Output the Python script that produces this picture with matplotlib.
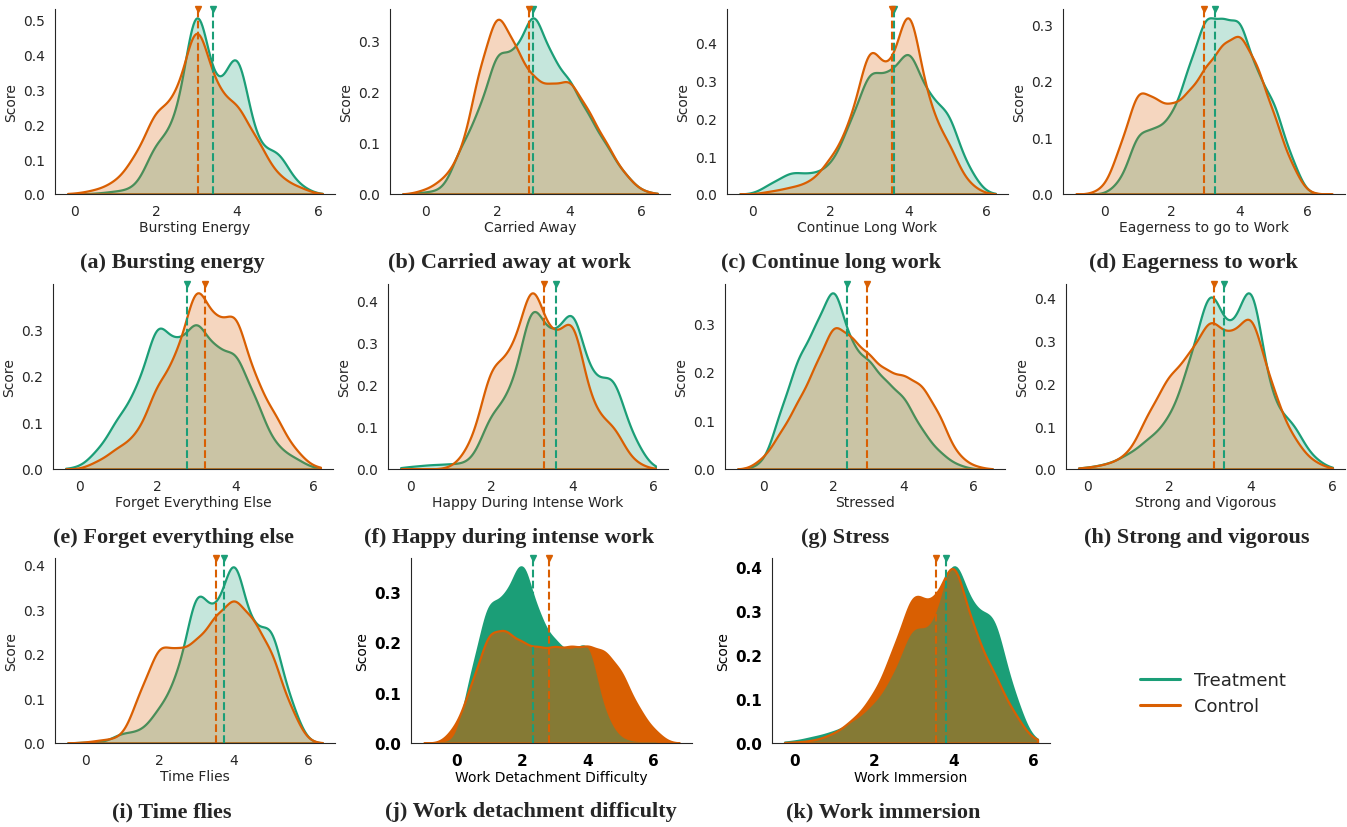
import numpy as np
import matplotlib
matplotlib.use("Agg")
import matplotlib.pyplot as plt
import seaborn as sns
from matplotlib.lines import Line2D

sns.set_style("white")
plt.rcParams['font.family'] = ['DejaVu Sans']

GREEN = '#1b9e77'
ORANGE = '#d95f02'
BW = 0.28  # kernel width in score units

# answer scores (half-point steps) and how many answers fell on each
scores = [0, 0.5, 1, 1.5, 2, 2.5, 3, 3.5, 4, 4.5, 5, 5.5, 6]

bursting_treat = [0, 1, 4, 8, 73, 97, 296, 129, 219, 62, 63, 13, 0]
bursting_ctrl = [1, 6, 18, 56, 126, 139, 271, 151, 134, 80, 27, 11, 0]
carried_treat = [2, 4, 48, 82, 146, 137, 189, 135, 114, 80, 50, 21, 3]
carried_ctrl = [4, 14, 38, 119, 180, 140, 109, 103, 111, 81, 50, 20, 3]
continue_treat = [0, 15, 30, 26, 36, 93, 167, 153, 198, 127, 112, 35, 0]
continue_ctrl = [0, 4, 9, 16, 46, 91, 206, 151, 267, 115, 69, 14, 0]
eager_treat = [0, 11, 56, 56, 67, 110, 158, 150, 155, 105, 82, 33, 0]
eager_ctrl = [5, 43, 94, 82, 76, 88, 110, 130, 141, 113, 70, 27, 1]
forget_treat = [2, 22, 58, 90, 171, 137, 170, 132, 133, 80, 27, 13, 1]
forget_ctrl = [0, 9, 24, 38, 94, 123, 212, 159, 177, 99, 61, 22, 2]
happy_treat = [3, 5, 6, 7, 66, 88, 203, 146, 195, 98, 113, 35, 0]
happy_ctrl = [0, 0, 1, 27, 124, 130, 227, 144, 184, 67, 52, 8, 0]
stress_treat = [6, 66, 124, 155, 209, 132, 119, 94, 80, 43, 19, 5, 0]
stress_ctrl = [11, 38, 69, 105, 149, 132, 115, 98, 94, 86, 57, 15, 3]
strong_treat = [2, 6, 17, 35, 57, 122, 222, 148, 236, 74, 56, 13, 0]
strong_ctrl = [2, 6, 17, 68, 113, 136, 185, 155, 196, 99, 39, 9, 0]
time_treat = [1, 1, 12, 13, 39, 76, 183, 140, 223, 124, 138, 49, 0]
time_ctrl = [1, 4, 6, 61, 115, 105, 116, 144, 168, 142, 107, 42, 1]
detach_treat = [0, 74, 144, 141, 190, 125, 100, 88, 106, 26, 3, 0, 0]
detach_ctrl = [16, 61, 112, 112, 99, 94, 95, 95, 96, 92, 73, 36, 13]
immersion_treat = [2, 7, 13, 24, 43, 76, 142, 127, 234, 153, 158, 59, 1]
immersion_ctrl = [1, 3, 11, 28, 56, 110, 185, 159, 229, 134, 85, 37, 3]

# group means (dashed lines)
treat_means = [3.4, 3.0, 3.62, 3.28, 2.77, 3.59, 2.39, 3.33, 3.74, 2.35, 3.82]
ctrl_means = [3.05, 2.88, 3.58, 2.96, 3.23, 3.3, 2.95, 3.1, 3.51, 2.82, 3.57]

xlabels = ["Bursting Energy", "Carried Away", "Continue Long Work",
           "Eagerness to go to Work", "Forget Everything Else",
           "Happy During Intense Work", "Stressed", "Strong and Vigorous",
           "Time Flies", "Work Detachment Difficulty", "Work Immersion"]
captions = ["(a) Bursting energy", "(b) Carried away at work",
            "(c) Continue long work", "(d) Eagerness to work",
            "(e) Forget everything else", "(f) Happy during intense work",
            "(g) Stress", "(h) Strong and vigorous", "(i) Time flies",
            "(j) Work detachment difficulty", "(k) Work immersion"]

treat_counts = [bursting_treat, carried_treat, continue_treat, eager_treat,
                forget_treat, happy_treat, stress_treat, strong_treat,
                time_treat, detach_treat, immersion_treat]
ctrl_counts = [bursting_ctrl, carried_ctrl, continue_ctrl, eager_ctrl,
               forget_ctrl, happy_ctrl, stress_ctrl, strong_ctrl,
               time_ctrl, detach_ctrl, immersion_ctrl]

W, H = 1347, 828
# axes boxes in pixels: left, top, right, bottom
boxes = [(55, 10, 335, 195), (390, 10, 670, 195), (727, 10, 1008, 195), (1063, 10, 1345, 195),
         (53, 285, 333, 470), (388, 285, 668, 470), (725, 285, 1005, 470), (1066, 285, 1345, 470),
         (55, 559, 335, 744), (411, 559, 692, 744), (772, 559, 1050, 744)]
xlims = [(-0.49, 6.42), (-0.97, 6.79), (-0.65, 6.54), (-1.21, 7.11),
         (-0.67, 6.5), (-0.55, 6.36), (-1.11, 6.9), (-0.52, 6.3),
         (-0.81, 6.72), (-1.37, 7.17), (-0.56, 6.43)]
caption_x = [172, 509, 831, 1193, 173, 509, 845, 1197, 172, 531, 883]
caption_y = [263, 263, 263, 263, 538, 538, 538, 538, 812, 812, 812]


def kde(ax, counts, color, alpha, lw, clip):
    x = np.array(scores, dtype=float)
    w = np.array(counts, dtype=float)
    keep = w > 0
    x, w = x[keep], w[keep]
    sd = np.sqrt(np.cov(x, aweights=w))
    sns.kdeplot(x=x, weights=w, bw_method=BW / sd, fill=True, color=color,
                alpha=alpha, linewidth=lw, clip=clip, ax=ax)


fig = plt.figure(figsize=(W / 100, H / 100), dpi=100)

for i in range(11):
    l, t, r, b = boxes[i]
    ax = fig.add_axes([l / W, 1 - b / H, (r - l) / W, (b - t) / H])
    lo, hi = xlims[i]
    pad = 0.045 * (hi - lo)
    clip = (lo + pad, hi - pad)
    bold = i >= 9
    if bold:
        # last two panels: solid fills
        kde(ax, ctrl_counts[i], ORANGE, 1.0, 0, clip)
        kde(ax, treat_counts[i], GREEN, 1.0, 1.6, clip)
        kde(ax, ctrl_counts[i], ORANGE, 0.56, 1.6, clip)
    else:
        kde(ax, treat_counts[i], GREEN, 0.25, 1.6, clip)
        kde(ax, ctrl_counts[i], ORANGE, 0.25, 1.6, clip)

    for m, c in [(treat_means[i], GREEN), (ctrl_means[i], ORANGE)]:
        ax.axvline(m, color=c, ls='--', lw=1.5)
        ax.plot([m], [1], marker='v', ms=4.5, color=c,
                transform=ax.get_xaxis_transform(), clip_on=False)

    ax.set_xlim(lo, hi)
    ax.set_xticks([0, 2, 4, 6])
    if bold:
        ax.tick_params(labelsize=11, labelcolor='black')
        for lab in ax.get_xticklabels() + ax.get_yticklabels():
            lab.set_fontweight('bold')
        tcolor = 'black'
    else:
        ax.tick_params(labelsize=10)
        tcolor = '.15'
    ax.set_xlabel(xlabels[i], fontsize=10, color=tcolor, labelpad=2)
    ax.set_ylabel('Score', fontsize=10, color=tcolor)
    sns.despine(ax=ax)

    fig.text(caption_x[i] / W, 1 - caption_y[i] / H, captions[i],
             ha='center', va='center', fontsize=16, fontweight='bold',
             family=['Liberation Serif', 'DejaVu Serif'])

handles = [Line2D([], [], color=GREEN, lw=2.2), Line2D([], [], color=ORANGE, lw=2.2)]
fig.legend(handles, ['Treatment', 'Control'], loc='center',
           bbox_to_anchor=(1213 / W, 1 - 694 / H), frameon=False,
           fontsize=13, handlelength=2.2, labelspacing=0.45)

fig.savefig('out.png', dpi=100)
